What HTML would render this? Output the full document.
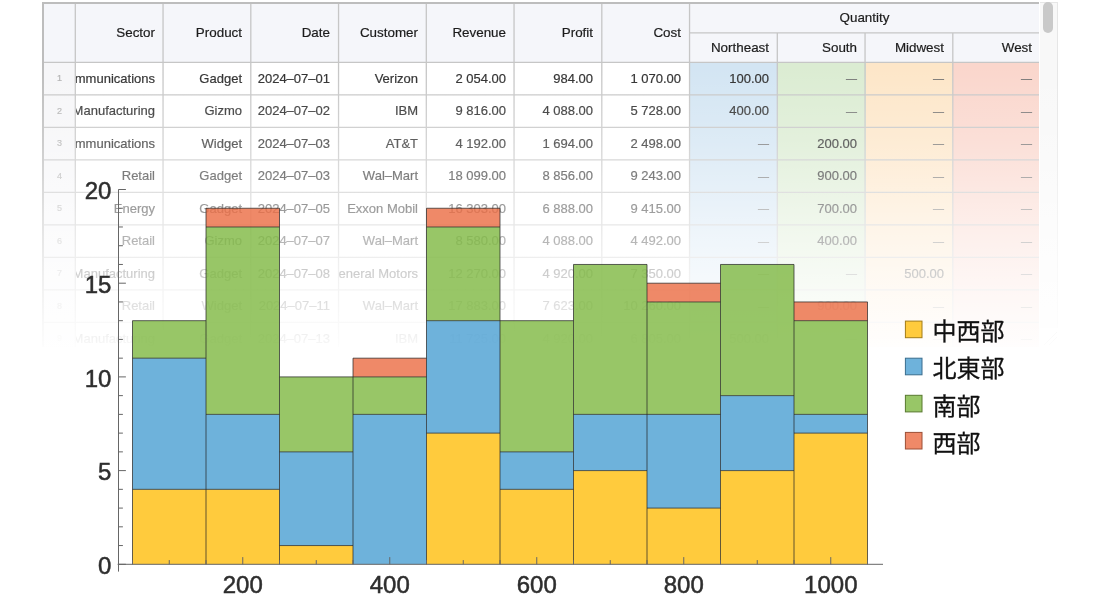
<!DOCTYPE html>
<html lang="ja"><head><meta charset="utf-8"><title>Dataset and Histogram</title>
<style>
html,body{margin:0;padding:0;background:#fff;}
body{width:1100px;height:600px;position:relative;overflow:hidden;font-family:"Liberation Sans","Noto Sans CJK JP",sans-serif;}
#tbl{position:absolute;left:0;top:0;width:1100px;height:350px;overflow:hidden;font-size:13px;color:#2e2e2e;}
#tbl .c{position:absolute;box-sizing:border-box;border-right:1px solid transparent;border-bottom:1px solid transparent;white-space:nowrap;overflow:hidden;text-align:right;}
#tbl .c span{position:absolute;right:8px;top:0;-webkit-text-stroke:0.2px;}
#tbl .h{background:#f5f6fa;color:#1c1c1c;font-size:13.4px;}
#tbl .d{font-size:11px;color:#6e6e6e;}
#tbl .last{border-right:none;}
#tbl .last span{right:7px;}
#tbl .ix{background:#f6f6f8;color:#b2b2b2;font-size:9px;text-align:left;}
#tbl .ix span{left:13px;right:auto;}
#frame{position:absolute;box-sizing:border-box;border-top:2px solid #bdbdbd;border-left:2px solid #bdbdbd;}
#fade{position:absolute;left:0;top:0;width:1100px;height:352px;background:linear-gradient(to bottom,rgba(255,255,255,0) 0px,rgba(255,255,255,0) 66px,rgba(255,255,255,.24) 143px,rgba(255,255,255,.38) 176px,rgba(255,255,255,.52) 208px,rgba(255,255,255,.65) 241px,rgba(255,255,255,.76) 273px,rgba(255,255,255,.85) 306px,rgba(255,255,255,.94) 339px,rgba(255,255,255,.97) 347px,#fff 347.5px,#fff 352px);}
#chart{position:absolute;left:0;top:0;}
#chart text{font-family:"Liberation Sans","Noto Sans CJK JP",sans-serif;font-size:24px;fill:#2e2e2e;stroke:#2e2e2e;stroke-width:0.5px;}
#chart .lg{font-size:24px;fill:#111;stroke:#111;stroke-width:0.3px;}
</style></head><body>
<div id="tbl">
<div class="c h" style="left:44.0px;top:4.0px;width:32.0px;height:59.0px;line-height:58.0px;"><span></span></div>
<div class="c h" style="left:76.0px;top:4.0px;width:88.0px;height:59.0px;line-height:58.0px;"><span>Sector</span></div>
<div class="c h" style="left:164.0px;top:4.0px;width:87.0px;height:59.0px;line-height:58.0px;"><span>Product</span></div>
<div class="c h" style="left:251.0px;top:4.0px;width:88.0px;height:59.0px;line-height:58.0px;"><span>Date</span></div>
<div class="c h" style="left:339.0px;top:4.0px;width:88.0px;height:59.0px;line-height:58.0px;"><span>Customer</span></div>
<div class="c h" style="left:427.0px;top:4.0px;width:88.0px;height:59.0px;line-height:58.0px;"><span>Revenue</span></div>
<div class="c h" style="left:515.0px;top:4.0px;width:87.0px;height:59.0px;line-height:58.0px;"><span>Profit</span></div>
<div class="c h" style="left:602.0px;top:4.0px;width:88.0px;height:59.0px;line-height:58.0px;"><span>Cost</span></div>
<div class="c h last" style="left:690.0px;top:4.0px;width:349.0px;height:29.0px;line-height:28.0px;text-align:center;"><span style="position:static">Quantity</span></div>
<div class="c h" style="left:690.0px;top:33.0px;width:88.0px;height:30.0px;line-height:29.0px;"><span>Northeast</span></div>
<div class="c h" style="left:778.0px;top:33.0px;width:88.0px;height:30.0px;line-height:29.0px;"><span>South</span></div>
<div class="c h" style="left:866.0px;top:33.0px;width:87.0px;height:30.0px;line-height:29.0px;"><span>Midwest</span></div>
<div class="c h last" style="left:953.0px;top:33.0px;width:86.0px;height:30.0px;line-height:29.0px;"><span>West</span></div>
<div class="c ix" style="left:44.0px;top:63.0px;width:32.0px;height:32.0px;line-height:31.0px;"><span>1</span></div>
<div class="c " style="left:76.0px;top:63.0px;width:88.0px;height:32.0px;line-height:31.0px;"><span>Communications</span></div>
<div class="c " style="left:164.0px;top:63.0px;width:87.0px;height:32.0px;line-height:31.0px;"><span>Gadget</span></div>
<div class="c " style="left:251.0px;top:63.0px;width:88.0px;height:32.0px;line-height:31.0px;"><span>2024–07–01</span></div>
<div class="c " style="left:339.0px;top:63.0px;width:88.0px;height:32.0px;line-height:31.0px;"><span>Verizon</span></div>
<div class="c " style="left:427.0px;top:63.0px;width:88.0px;height:32.0px;line-height:31.0px;"><span>2 054.00</span></div>
<div class="c " style="left:515.0px;top:63.0px;width:87.0px;height:32.0px;line-height:31.0px;"><span>984.00</span></div>
<div class="c " style="left:602.0px;top:63.0px;width:88.0px;height:32.0px;line-height:31.0px;"><span>1 070.00</span></div>
<div class="c " style="left:690.0px;top:63.0px;width:88.0px;height:32.0px;line-height:31.0px;background:#d3e5f3;"><span>100.00</span></div>
<div class="c d" style="left:778.0px;top:63.0px;width:88.0px;height:32.0px;line-height:31.0px;background:#dbecd2;"><span>—</span></div>
<div class="c d" style="left:866.0px;top:63.0px;width:87.0px;height:32.0px;line-height:31.0px;background:#fde6c8;"><span>—</span></div>
<div class="c d last" style="left:953.0px;top:63.0px;width:86.0px;height:32.0px;line-height:31.0px;background:#fad6cc;"><span>—</span></div>
<div class="c ix" style="left:44.0px;top:95.0px;width:32.0px;height:33.0px;line-height:32.0px;"><span>2</span></div>
<div class="c " style="left:76.0px;top:95.0px;width:88.0px;height:33.0px;line-height:32.0px;"><span>Manufacturing</span></div>
<div class="c " style="left:164.0px;top:95.0px;width:87.0px;height:33.0px;line-height:32.0px;"><span>Gizmo</span></div>
<div class="c " style="left:251.0px;top:95.0px;width:88.0px;height:33.0px;line-height:32.0px;"><span>2024–07–02</span></div>
<div class="c " style="left:339.0px;top:95.0px;width:88.0px;height:33.0px;line-height:32.0px;"><span>IBM</span></div>
<div class="c " style="left:427.0px;top:95.0px;width:88.0px;height:33.0px;line-height:32.0px;"><span>9 816.00</span></div>
<div class="c " style="left:515.0px;top:95.0px;width:87.0px;height:33.0px;line-height:32.0px;"><span>4 088.00</span></div>
<div class="c " style="left:602.0px;top:95.0px;width:88.0px;height:33.0px;line-height:32.0px;"><span>5 728.00</span></div>
<div class="c " style="left:690.0px;top:95.0px;width:88.0px;height:33.0px;line-height:32.0px;background:#d3e5f3;"><span>400.00</span></div>
<div class="c d" style="left:778.0px;top:95.0px;width:88.0px;height:33.0px;line-height:32.0px;background:#dbecd2;"><span>—</span></div>
<div class="c d" style="left:866.0px;top:95.0px;width:87.0px;height:33.0px;line-height:32.0px;background:#fde6c8;"><span>—</span></div>
<div class="c d last" style="left:953.0px;top:95.0px;width:86.0px;height:33.0px;line-height:32.0px;background:#fad6cc;"><span>—</span></div>
<div class="c ix" style="left:44.0px;top:128.0px;width:32.0px;height:32.0px;line-height:31.0px;"><span>3</span></div>
<div class="c " style="left:76.0px;top:128.0px;width:88.0px;height:32.0px;line-height:31.0px;"><span>Communications</span></div>
<div class="c " style="left:164.0px;top:128.0px;width:87.0px;height:32.0px;line-height:31.0px;"><span>Widget</span></div>
<div class="c " style="left:251.0px;top:128.0px;width:88.0px;height:32.0px;line-height:31.0px;"><span>2024–07–03</span></div>
<div class="c " style="left:339.0px;top:128.0px;width:88.0px;height:32.0px;line-height:31.0px;"><span>AT&amp;T</span></div>
<div class="c " style="left:427.0px;top:128.0px;width:88.0px;height:32.0px;line-height:31.0px;"><span>4 192.00</span></div>
<div class="c " style="left:515.0px;top:128.0px;width:87.0px;height:32.0px;line-height:31.0px;"><span>1 694.00</span></div>
<div class="c " style="left:602.0px;top:128.0px;width:88.0px;height:32.0px;line-height:31.0px;"><span>2 498.00</span></div>
<div class="c d" style="left:690.0px;top:128.0px;width:88.0px;height:32.0px;line-height:31.0px;background:#d3e5f3;"><span>—</span></div>
<div class="c " style="left:778.0px;top:128.0px;width:88.0px;height:32.0px;line-height:31.0px;background:#dbecd2;"><span>200.00</span></div>
<div class="c d" style="left:866.0px;top:128.0px;width:87.0px;height:32.0px;line-height:31.0px;background:#fde6c8;"><span>—</span></div>
<div class="c d last" style="left:953.0px;top:128.0px;width:86.0px;height:32.0px;line-height:31.0px;background:#fad6cc;"><span>—</span></div>
<div class="c ix" style="left:44.0px;top:160.0px;width:32.0px;height:33.0px;line-height:32.0px;"><span>4</span></div>
<div class="c " style="left:76.0px;top:160.0px;width:88.0px;height:33.0px;line-height:32.0px;"><span>Retail</span></div>
<div class="c " style="left:164.0px;top:160.0px;width:87.0px;height:33.0px;line-height:32.0px;"><span>Gadget</span></div>
<div class="c " style="left:251.0px;top:160.0px;width:88.0px;height:33.0px;line-height:32.0px;"><span>2024–07–03</span></div>
<div class="c " style="left:339.0px;top:160.0px;width:88.0px;height:33.0px;line-height:32.0px;"><span>Wal–Mart</span></div>
<div class="c " style="left:427.0px;top:160.0px;width:88.0px;height:33.0px;line-height:32.0px;"><span>18 099.00</span></div>
<div class="c " style="left:515.0px;top:160.0px;width:87.0px;height:33.0px;line-height:32.0px;"><span>8 856.00</span></div>
<div class="c " style="left:602.0px;top:160.0px;width:88.0px;height:33.0px;line-height:32.0px;"><span>9 243.00</span></div>
<div class="c d" style="left:690.0px;top:160.0px;width:88.0px;height:33.0px;line-height:32.0px;background:#d3e5f3;"><span>—</span></div>
<div class="c " style="left:778.0px;top:160.0px;width:88.0px;height:33.0px;line-height:32.0px;background:#dbecd2;"><span>900.00</span></div>
<div class="c d" style="left:866.0px;top:160.0px;width:87.0px;height:33.0px;line-height:32.0px;background:#fde6c8;"><span>—</span></div>
<div class="c d last" style="left:953.0px;top:160.0px;width:86.0px;height:33.0px;line-height:32.0px;background:#fad6cc;"><span>—</span></div>
<div class="c ix" style="left:44.0px;top:193.0px;width:32.0px;height:32.0px;line-height:31.0px;"><span>5</span></div>
<div class="c " style="left:76.0px;top:193.0px;width:88.0px;height:32.0px;line-height:31.0px;"><span>Energy</span></div>
<div class="c " style="left:164.0px;top:193.0px;width:87.0px;height:32.0px;line-height:31.0px;"><span>Gadget</span></div>
<div class="c " style="left:251.0px;top:193.0px;width:88.0px;height:32.0px;line-height:31.0px;"><span>2024–07–05</span></div>
<div class="c " style="left:339.0px;top:193.0px;width:88.0px;height:32.0px;line-height:31.0px;"><span>Exxon Mobil</span></div>
<div class="c " style="left:427.0px;top:193.0px;width:88.0px;height:32.0px;line-height:31.0px;"><span>16 303.00</span></div>
<div class="c " style="left:515.0px;top:193.0px;width:87.0px;height:32.0px;line-height:31.0px;"><span>6 888.00</span></div>
<div class="c " style="left:602.0px;top:193.0px;width:88.0px;height:32.0px;line-height:31.0px;"><span>9 415.00</span></div>
<div class="c d" style="left:690.0px;top:193.0px;width:88.0px;height:32.0px;line-height:31.0px;background:#d3e5f3;"><span>—</span></div>
<div class="c " style="left:778.0px;top:193.0px;width:88.0px;height:32.0px;line-height:31.0px;background:#dbecd2;"><span>700.00</span></div>
<div class="c d" style="left:866.0px;top:193.0px;width:87.0px;height:32.0px;line-height:31.0px;background:#fde6c8;"><span>—</span></div>
<div class="c d last" style="left:953.0px;top:193.0px;width:86.0px;height:32.0px;line-height:31.0px;background:#fad6cc;"><span>—</span></div>
<div class="c ix" style="left:44.0px;top:225.0px;width:32.0px;height:33.0px;line-height:32.0px;"><span>6</span></div>
<div class="c " style="left:76.0px;top:225.0px;width:88.0px;height:33.0px;line-height:32.0px;"><span>Retail</span></div>
<div class="c " style="left:164.0px;top:225.0px;width:87.0px;height:33.0px;line-height:32.0px;"><span>Gizmo</span></div>
<div class="c " style="left:251.0px;top:225.0px;width:88.0px;height:33.0px;line-height:32.0px;"><span>2024–07–07</span></div>
<div class="c " style="left:339.0px;top:225.0px;width:88.0px;height:33.0px;line-height:32.0px;"><span>Wal–Mart</span></div>
<div class="c " style="left:427.0px;top:225.0px;width:88.0px;height:33.0px;line-height:32.0px;"><span>8 580.00</span></div>
<div class="c " style="left:515.0px;top:225.0px;width:87.0px;height:33.0px;line-height:32.0px;"><span>4 088.00</span></div>
<div class="c " style="left:602.0px;top:225.0px;width:88.0px;height:33.0px;line-height:32.0px;"><span>4 492.00</span></div>
<div class="c d" style="left:690.0px;top:225.0px;width:88.0px;height:33.0px;line-height:32.0px;background:#d3e5f3;"><span>—</span></div>
<div class="c " style="left:778.0px;top:225.0px;width:88.0px;height:33.0px;line-height:32.0px;background:#dbecd2;"><span>400.00</span></div>
<div class="c d" style="left:866.0px;top:225.0px;width:87.0px;height:33.0px;line-height:32.0px;background:#fde6c8;"><span>—</span></div>
<div class="c d last" style="left:953.0px;top:225.0px;width:86.0px;height:33.0px;line-height:32.0px;background:#fad6cc;"><span>—</span></div>
<div class="c ix" style="left:44.0px;top:258.0px;width:32.0px;height:32.0px;line-height:31.0px;"><span>7</span></div>
<div class="c " style="left:76.0px;top:258.0px;width:88.0px;height:32.0px;line-height:31.0px;"><span>Manufacturing</span></div>
<div class="c " style="left:164.0px;top:258.0px;width:87.0px;height:32.0px;line-height:31.0px;"><span>Gadget</span></div>
<div class="c " style="left:251.0px;top:258.0px;width:88.0px;height:32.0px;line-height:31.0px;"><span>2024–07–08</span></div>
<div class="c " style="left:339.0px;top:258.0px;width:88.0px;height:32.0px;line-height:31.0px;"><span>General Motors</span></div>
<div class="c " style="left:427.0px;top:258.0px;width:88.0px;height:32.0px;line-height:31.0px;"><span>12 270.00</span></div>
<div class="c " style="left:515.0px;top:258.0px;width:87.0px;height:32.0px;line-height:31.0px;"><span>4 920.00</span></div>
<div class="c " style="left:602.0px;top:258.0px;width:88.0px;height:32.0px;line-height:31.0px;"><span>7 350.00</span></div>
<div class="c d" style="left:690.0px;top:258.0px;width:88.0px;height:32.0px;line-height:31.0px;background:#d3e5f3;"><span>—</span></div>
<div class="c d" style="left:778.0px;top:258.0px;width:88.0px;height:32.0px;line-height:31.0px;background:#dbecd2;"><span>—</span></div>
<div class="c " style="left:866.0px;top:258.0px;width:87.0px;height:32.0px;line-height:31.0px;background:#fde6c8;"><span>500.00</span></div>
<div class="c d last" style="left:953.0px;top:258.0px;width:86.0px;height:32.0px;line-height:31.0px;background:#fad6cc;"><span>—</span></div>
<div class="c ix" style="left:44.0px;top:290.0px;width:32.0px;height:33.0px;line-height:32.0px;"><span>8</span></div>
<div class="c " style="left:76.0px;top:290.0px;width:88.0px;height:33.0px;line-height:32.0px;"><span>Retail</span></div>
<div class="c " style="left:164.0px;top:290.0px;width:87.0px;height:33.0px;line-height:32.0px;"><span>Widget</span></div>
<div class="c " style="left:251.0px;top:290.0px;width:88.0px;height:33.0px;line-height:32.0px;"><span>2024–07–11</span></div>
<div class="c " style="left:339.0px;top:290.0px;width:88.0px;height:33.0px;line-height:32.0px;"><span>Wal–Mart</span></div>
<div class="c " style="left:427.0px;top:290.0px;width:88.0px;height:33.0px;line-height:32.0px;"><span>17 883.00</span></div>
<div class="c " style="left:515.0px;top:290.0px;width:87.0px;height:33.0px;line-height:32.0px;"><span>7 623.00</span></div>
<div class="c " style="left:602.0px;top:290.0px;width:88.0px;height:33.0px;line-height:32.0px;"><span>10 260.00</span></div>
<div class="c d" style="left:690.0px;top:290.0px;width:88.0px;height:33.0px;line-height:32.0px;background:#d3e5f3;"><span>—</span></div>
<div class="c " style="left:778.0px;top:290.0px;width:88.0px;height:33.0px;line-height:32.0px;background:#dbecd2;"><span>900.00</span></div>
<div class="c d" style="left:866.0px;top:290.0px;width:87.0px;height:33.0px;line-height:32.0px;background:#fde6c8;"><span>—</span></div>
<div class="c d last" style="left:953.0px;top:290.0px;width:86.0px;height:33.0px;line-height:32.0px;background:#fad6cc;"><span>—</span></div>
<div class="c ix" style="left:44.0px;top:323.0px;width:32.0px;height:32.0px;line-height:31.0px;"><span>9</span></div>
<div class="c " style="left:76.0px;top:323.0px;width:88.0px;height:32.0px;line-height:31.0px;"><span>Manufacturing</span></div>
<div class="c " style="left:164.0px;top:323.0px;width:87.0px;height:32.0px;line-height:31.0px;"><span>Gadget</span></div>
<div class="c " style="left:251.0px;top:323.0px;width:88.0px;height:32.0px;line-height:31.0px;"><span>2024–07–13</span></div>
<div class="c " style="left:339.0px;top:323.0px;width:88.0px;height:32.0px;line-height:31.0px;"><span>IBM</span></div>
<div class="c " style="left:427.0px;top:323.0px;width:88.0px;height:32.0px;line-height:31.0px;"><span>11 725.00</span></div>
<div class="c " style="left:515.0px;top:323.0px;width:87.0px;height:32.0px;line-height:31.0px;"><span>4 920.00</span></div>
<div class="c " style="left:602.0px;top:323.0px;width:88.0px;height:32.0px;line-height:31.0px;"><span>6 805.00</span></div>
<div class="c " style="left:690.0px;top:323.0px;width:88.0px;height:32.0px;line-height:31.0px;background:#d3e5f3;"><span>500.00</span></div>
<div class="c d" style="left:778.0px;top:323.0px;width:88.0px;height:32.0px;line-height:31.0px;background:#dbecd2;"><span>—</span></div>
<div class="c d" style="left:866.0px;top:323.0px;width:87.0px;height:32.0px;line-height:31.0px;background:#fde6c8;"><span>—</span></div>
<div class="c d last" style="left:953.0px;top:323.0px;width:86.0px;height:32.0px;line-height:31.0px;background:#fad6cc;"><span>—</span></div>
<div class="c ix" style="left:44.0px;top:355.0px;width:32.0px;height:33.0px;line-height:32.0px;"><span>10</span></div>
<div class="c " style="left:76.0px;top:355.0px;width:88.0px;height:33.0px;line-height:32.0px;"><span>Energy</span></div>
<div class="c " style="left:164.0px;top:355.0px;width:87.0px;height:33.0px;line-height:32.0px;"><span>Gizmo</span></div>
<div class="c " style="left:251.0px;top:355.0px;width:88.0px;height:33.0px;line-height:32.0px;"><span>2024–07–14</span></div>
<div class="c " style="left:339.0px;top:355.0px;width:88.0px;height:33.0px;line-height:32.0px;"><span>Exxon Mobil</span></div>
<div class="c " style="left:427.0px;top:355.0px;width:88.0px;height:33.0px;line-height:32.0px;"><span>9 120.00</span></div>
<div class="c " style="left:515.0px;top:355.0px;width:87.0px;height:33.0px;line-height:32.0px;"><span>3 864.00</span></div>
<div class="c " style="left:602.0px;top:355.0px;width:88.0px;height:33.0px;line-height:32.0px;"><span>5 256.00</span></div>
<div class="c d" style="left:690.0px;top:355.0px;width:88.0px;height:33.0px;line-height:32.0px;background:#d3e5f3;"><span>—</span></div>
<div class="c d" style="left:778.0px;top:355.0px;width:88.0px;height:33.0px;line-height:32.0px;background:#dbecd2;"><span>—</span></div>
<div class="c d" style="left:866.0px;top:355.0px;width:87.0px;height:33.0px;line-height:32.0px;background:#fde6c8;"><span>—</span></div>
<div class="c  last" style="left:953.0px;top:355.0px;width:86.0px;height:33.0px;line-height:32.0px;background:#fad6cc;"><span>300.00</span></div>
<svg style="position:absolute;left:0;top:0" width="1100" height="400" viewBox="0 0 1100 400"><path fill="none" stroke="#c6c6c6" stroke-width="1.3" d="M75.30 4.0V400M163.05 4.0V400M250.80 4.0V400M338.55 4.0V400M426.30 4.0V400M514.05 4.0V400M601.80 4.0V400M689.55 4.0V400M777.30 32.8V400M865.05 32.8V400M952.80 32.8V400M689.55 32.8H1039M44 62.45H1039M44 94.95H1039M44 127.45H1039M44 159.95H1039M44 192.45H1039M44 224.95H1039M44 257.45H1039M44 289.95H1039M44 322.45H1039M44 354.95H1039M44 387.45H1039"/></svg>
<div id="frame" style="left:42px;top:2px;width:997.0px;height:400px;"></div>
<div style="position:absolute;left:1040px;top:2px;width:18px;height:326px;background:#f8f8f8;border-right:1px solid #e6e6e6;border-top:1px solid #e6e6e6;box-sizing:border-box;"></div>
<div style="position:absolute;left:1043.3px;top:2px;width:9.7px;height:31px;background:#c9c9c9;border-radius:5px;"></div>
<svg style="position:absolute;left:1040px;top:328px" width="18" height="18" viewBox="0 0 18 18"><path d="M4 17L17 4M9 17L17 9" stroke="#bbb" stroke-width="1" fill="none"/></svg>
</div>
<div id="fade"></div>
<svg id="chart" width="1100" height="600" viewBox="0 0 1100 600">
<g fill-opacity="0.8">
<rect x="132.50" y="489.34" width="73.50" height="74.96" fill="#ffbe0d"/>
<rect x="132.50" y="358.16" width="73.50" height="131.18" fill="#4a9fd2"/>
<rect x="132.50" y="320.68" width="73.50" height="37.48" fill="#7eb841"/>
<rect x="206.00" y="489.34" width="73.50" height="74.96" fill="#ffbe0d"/>
<rect x="206.00" y="414.38" width="73.50" height="74.96" fill="#4a9fd2"/>
<rect x="206.00" y="226.98" width="73.50" height="187.40" fill="#7eb841"/>
<rect x="206.00" y="208.24" width="73.50" height="18.74" fill="#eb6c42"/>
<rect x="279.50" y="545.56" width="73.50" height="18.74" fill="#ffbe0d"/>
<rect x="279.50" y="451.86" width="73.50" height="93.70" fill="#4a9fd2"/>
<rect x="279.50" y="376.90" width="73.50" height="74.96" fill="#7eb841"/>
<rect x="353.00" y="414.38" width="73.50" height="149.92" fill="#4a9fd2"/>
<rect x="353.00" y="376.90" width="73.50" height="37.48" fill="#7eb841"/>
<rect x="353.00" y="358.16" width="73.50" height="18.74" fill="#eb6c42"/>
<rect x="426.50" y="433.12" width="73.50" height="131.18" fill="#ffbe0d"/>
<rect x="426.50" y="320.68" width="73.50" height="112.44" fill="#4a9fd2"/>
<rect x="426.50" y="226.98" width="73.50" height="93.70" fill="#7eb841"/>
<rect x="426.50" y="208.24" width="73.50" height="18.74" fill="#eb6c42"/>
<rect x="500.00" y="489.34" width="73.50" height="74.96" fill="#ffbe0d"/>
<rect x="500.00" y="451.86" width="73.50" height="37.48" fill="#4a9fd2"/>
<rect x="500.00" y="320.68" width="73.50" height="131.18" fill="#7eb841"/>
<rect x="573.50" y="470.60" width="73.50" height="93.70" fill="#ffbe0d"/>
<rect x="573.50" y="414.38" width="73.50" height="56.22" fill="#4a9fd2"/>
<rect x="573.50" y="264.46" width="73.50" height="149.92" fill="#7eb841"/>
<rect x="647.00" y="508.08" width="73.50" height="56.22" fill="#ffbe0d"/>
<rect x="647.00" y="414.38" width="73.50" height="93.70" fill="#4a9fd2"/>
<rect x="647.00" y="301.94" width="73.50" height="112.44" fill="#7eb841"/>
<rect x="647.00" y="283.20" width="73.50" height="18.74" fill="#eb6c42"/>
<rect x="720.50" y="470.60" width="73.50" height="93.70" fill="#ffbe0d"/>
<rect x="720.50" y="395.64" width="73.50" height="74.96" fill="#4a9fd2"/>
<rect x="720.50" y="264.46" width="73.50" height="131.18" fill="#7eb841"/>
<rect x="794.00" y="433.12" width="73.50" height="131.18" fill="#ffbe0d"/>
<rect x="794.00" y="414.38" width="73.50" height="18.74" fill="#4a9fd2"/>
<rect x="794.00" y="320.68" width="73.50" height="93.70" fill="#7eb841"/>
<rect x="794.00" y="301.94" width="73.50" height="18.74" fill="#eb6c42"/>
</g>
<path fill="none" stroke="#262626" stroke-width="0.8" stroke-opacity="0.9" d="M132.50 489.34H206.00M132.50 358.16H206.00M132.50 320.68H206.00M206.00 489.34H279.50M206.00 414.38H279.50M206.00 226.98H279.50M206.00 208.24H279.50M279.50 545.56H353.00M279.50 451.86H353.00M279.50 376.90H353.00M353.00 414.38H426.50M353.00 376.90H426.50M353.00 358.16H426.50M426.50 433.12H500.00M426.50 320.68H500.00M426.50 226.98H500.00M426.50 208.24H500.00M500.00 489.34H573.50M500.00 451.86H573.50M500.00 320.68H573.50M573.50 470.60H647.00M573.50 414.38H647.00M573.50 264.46H647.00M647.00 508.08H720.50M647.00 414.38H720.50M647.00 301.94H720.50M647.00 283.20H720.50M720.50 470.60H794.00M720.50 395.64H794.00M720.50 264.46H794.00M794.00 433.12H867.50M794.00 414.38H867.50M794.00 320.68H867.50M794.00 301.94H867.50M132.50 564.30V320.68M206.00 564.30V208.24M279.50 564.30V208.24M353.00 564.30V358.16M426.50 564.30V208.24M500.00 564.30V208.24M573.50 564.30V264.46M647.00 564.30V264.46M720.50 564.30V264.46M794.00 564.30V264.46M867.50 564.30V301.94"/>
<g stroke="#666" stroke-width="1" fill="none">
<path d="M117.6 564.3H883"/>
<path d="M118.5 189.4V571.6"/>
<path d="M132.50 564.3v-4.2M169.25 564.3v-4.2M206.00 564.3v-4.2M242.75 564.3v-7.2M279.50 564.3v-4.2M316.25 564.3v-4.2M353.00 564.3v-4.2M389.75 564.3v-7.2M426.50 564.3v-4.2M463.25 564.3v-4.2M500.00 564.3v-4.2M536.75 564.3v-7.2M573.50 564.3v-4.2M610.25 564.3v-4.2M647.00 564.3v-4.2M683.75 564.3v-7.2M720.50 564.3v-4.2M757.25 564.3v-4.2M794.00 564.3v-4.2M830.75 564.3v-7.2M867.50 564.3v-4.2M118.5 564.30h7.4M118.5 545.56h4.4M118.5 526.82h4.4M118.5 508.08h4.4M118.5 489.34h4.4M118.5 470.60h7.4M118.5 451.86h4.4M118.5 433.12h4.4M118.5 414.38h4.4M118.5 395.64h4.4M118.5 376.90h7.4M118.5 358.16h4.4M118.5 339.42h4.4M118.5 320.68h4.4M118.5 301.94h4.4M118.5 283.20h7.4M118.5 264.46h4.4M118.5 245.72h4.4M118.5 226.98h4.4M118.5 208.24h4.4M118.5 189.50h7.4"/>
</g>
<text x="242.8" y="592.8" text-anchor="middle">200</text>
<text x="389.8" y="592.8" text-anchor="middle">400</text>
<text x="536.8" y="592.8" text-anchor="middle">600</text>
<text x="683.8" y="592.8" text-anchor="middle">800</text>
<text x="830.8" y="592.8" text-anchor="middle">1000</text>
<text x="111.4" y="574.0" text-anchor="end">0</text>
<text x="111.4" y="480.3" text-anchor="end">5</text>
<text x="111.4" y="386.6" text-anchor="end">10</text>
<text x="111.4" y="292.9" text-anchor="end">15</text>
<text x="111.4" y="199.2" text-anchor="end">20</text>
<rect x="905.4" y="321.1" width="16.6" height="16.6" fill="#ffcb3d" stroke="#a37c16" stroke-width="1"/>
<text class="lg" x="932.6" y="340.3">中西部</text>
<rect x="905.4" y="358.2" width="16.6" height="16.6" fill="#6eb2db" stroke="#3a6d8e" stroke-width="1"/>
<text class="lg" x="932.6" y="377.4">北東部</text>
<rect x="905.4" y="395.3" width="16.6" height="16.6" fill="#98c667" stroke="#58792f" stroke-width="1"/>
<text class="lg" x="932.6" y="414.5">南部</text>
<rect x="905.4" y="432.4" width="16.6" height="16.6" fill="#ef8968" stroke="#9c4f36" stroke-width="1"/>
<text class="lg" x="932.6" y="451.6">西部</text>
</svg>
</body></html>
